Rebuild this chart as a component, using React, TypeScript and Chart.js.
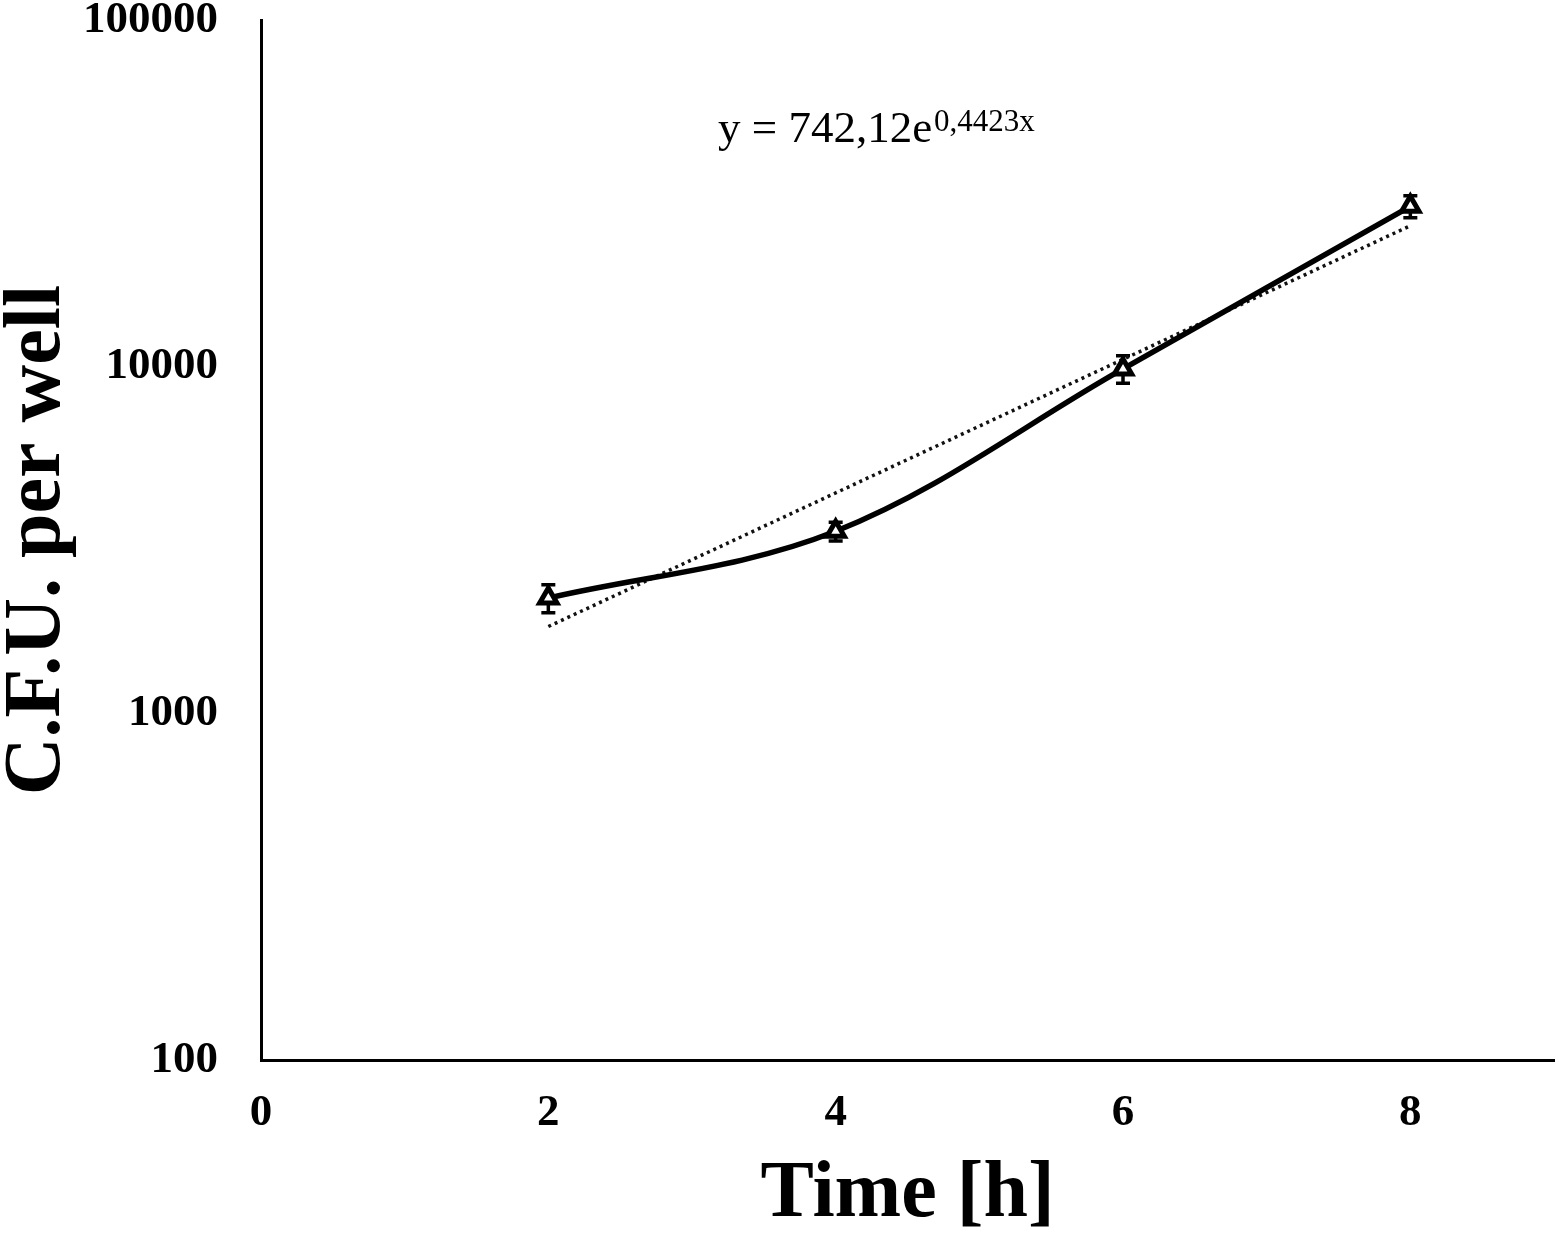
import { useEffect, useRef } from "react";
import { Chart, registerables } from "chart.js";

Chart.register(...registerables);

// Growth data
const timeHours = [2, 4, 6, 8];
const cfuMean = [2150, 3350, 9850, 29000];
const cfuError = [200, 210, 900, 2100];

// Exponential trendline (straight on log axis), endpoints
const trendX = [2, 8];
const trendY = [1780, 25500];

const xTicks = [0, 2, 4, 6, 8];
const yTicks = [100, 1000, 10000, 100000];

const equationMain = "y = 742,12e";
const equationSup = "0,4423x";

const SERIF = "'Liberation Serif', 'Times New Roman', serif";

// canvas is a bit wider than the page; the extra strip is clipped by the wrapper
const CANVAS_W = 1569;
const CANVAS_H = 1243;

const errorBarPlugin = {
  id: "errorBars",
  beforeDatasetsDraw(chart: any) {
    const meta = chart.getDatasetMeta(0);
    const yScale = chart.scales.y;
    const ctx = chart.ctx;
    ctx.save();
    ctx.strokeStyle = "#000";
    ctx.lineWidth = 3.5;
    meta.data.forEach((pt: any, i: number) => {
      const top = yScale.getPixelForValue(cfuMean[i] + cfuError[i]);
      const bottom = yScale.getPixelForValue(cfuMean[i] - cfuError[i]);
      const x = pt.x;
      ctx.beginPath();
      ctx.moveTo(x, top);
      ctx.lineTo(x, bottom);
      ctx.moveTo(x - 7, top);
      ctx.lineTo(x + 7, top);
      ctx.moveTo(x - 7, bottom);
      ctx.lineTo(x + 7, bottom);
      ctx.stroke();
    });
    ctx.restore();
  },
};

const equationPlugin = {
  id: "equation",
  afterDraw(chart: any) {
    const ctx = chart.ctx;
    ctx.save();
    ctx.fillStyle = "#000";
    ctx.textBaseline = "alphabetic";
    ctx.textAlign = "left";
    ctx.font = `45px ${SERIF}`;
    const x0 = 718;
    ctx.fillText(equationMain, x0, 142);
    const w = ctx.measureText(equationMain).width;
    ctx.font = `31px ${SERIF}`;
    ctx.fillText(equationSup, x0 + w + 2, 131);
    ctx.restore();
  },
};

export default function App() {
  const chartRef = useRef<HTMLCanvasElement>(null);
  const chartInstanceRef = useRef<Chart | null>(null);

  useEffect(() => {
    if (!chartRef.current) return;
    if (chartInstanceRef.current) {
      chartInstanceRef.current.destroy();
    }
    const ctx = chartRef.current.getContext("2d");
    if (!ctx) return;

    chartInstanceRef.current = new Chart(ctx, {
      type: "line",
      data: {
        datasets: [
          {
            label: "C.F.U.",
            data: timeHours.map((t, i) => ({ x: t, y: cfuMean[i] })),
            borderColor: "#000",
            borderWidth: 5.5,
            tension: 0.35,
            pointStyle: "triangle",
            pointRadius: 10,
            pointBorderWidth: 5,
            pointBackgroundColor: "#fff",
            pointBorderColor: "#000",
            fill: false,
          },
          {
            label: "Trend",
            data: trendX.map((t, i) => ({ x: t, y: trendY[i] })),
            borderColor: "#111",
            borderWidth: 3.5,
            borderDash: [3, 4],
            pointRadius: 0,
            tension: 0,
            fill: false,
          },
        ],
      },
      options: {
        animation: false,
        responsive: false,
        layout: { padding: { top: 20, right: 0, left: 0, bottom: 0 } },
        plugins: {
          legend: { display: false },
          tooltip: { enabled: false },
        },
        scales: {
          x: {
            type: "linear",
            min: 0,
            max: 9,
            grid: { display: false, drawTicks: false },
            border: { display: true, color: "#000", width: 3 },
            afterBuildTicks: (scale: any) => {
              scale.ticks = xTicks.map((v) => ({ value: v }));
            },
            afterFit: (scale: any) => {
              scale.height = 183;
              scale.paddingLeft = 0;
              scale.paddingRight = 0;
            },
            ticks: {
              color: "#000",
              padding: 26,
              font: { family: SERIF, size: 45, weight: "bold", lineHeight: 1.2 },
              maxRotation: 0,
            },
            title: {
              display: true,
              text: "Time [h]",
              color: "#000",
              padding: 0,
              font: { family: SERIF, size: 80, weight: "bold", lineHeight: 1.2 },
            },
          },
          y: {
            type: "logarithmic",
            min: 100,
            max: 100000,
            grid: { display: false, drawTicks: false },
            border: { display: true, color: "#000", width: 3 },
            afterBuildTicks: (scale: any) => {
              scale.ticks = yTicks.map((v) => ({ value: v }));
            },
            afterFit: (scale: any) => {
              scale.width = 261;
              scale.paddingTop = 0;
              scale.paddingBottom = 0;
            },
            ticks: {
              color: "#000",
              padding: 43,
              font: { family: SERIF, size: 45, weight: "bold", lineHeight: 1.2 },
              callback: (v: any) => String(v),
            },
            title: {
              display: true,
              text: "C.F.U. per well",
              color: "#000",
              padding: 0,
              font: { family: SERIF, size: 80, weight: "bold", lineHeight: 0.95 },
            },
          },
        },
      },
      plugins: [errorBarPlugin, equationPlugin],
    } as any);

    return () => {
      if (chartInstanceRef.current) {
        chartInstanceRef.current.destroy();
        chartInstanceRef.current = null;
      }
    };
  }, []);

  return (
    <div
      style={{
        position: "fixed",
        left: 0,
        top: 0,
        width: 1559,
        height: 1243,
        overflow: "hidden",
        background: "#fff",
      }}
    >
      <canvas
        ref={chartRef}
        width={CANVAS_W}
        height={CANVAS_H}
        style={{ width: CANVAS_W, height: CANVAS_H, display: "block" }}
      />
    </div>
  );
}
